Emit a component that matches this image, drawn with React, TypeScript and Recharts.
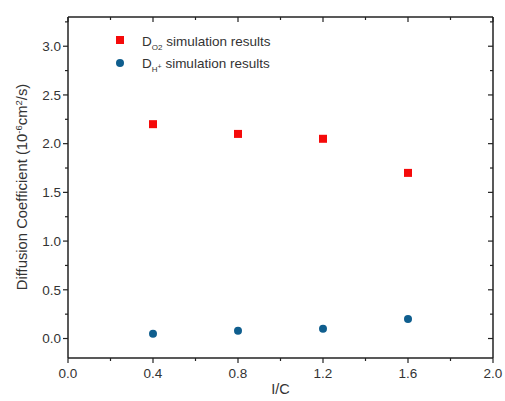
import { ScatterChart, Scatter, XAxis, YAxis } from "recharts"

const icValues = [0.4, 0.8, 1.2, 1.6]
const o2Values = [2.2, 2.1, 2.05, 1.7]
const hValues = [0.05, 0.08, 0.1, 0.2]

const xTicks = [0, 0.2, 0.4, 0.6, 0.8, 1.0, 1.2, 1.4, 1.6, 1.8, 2.0]
const yTicks = [0, 0.25, 0.5, 0.75, 1.0, 1.25, 1.5, 1.75, 2.0, 2.25, 2.5, 2.75, 3.0, 3.25]

const o2Data = icValues.map((x, i) => ({ x, y: o2Values[i] }))
const hData = icValues.map((x, i) => ({ x, y: hValues[i] }))

const font = "'Liberation Sans', Arial, sans-serif"
const axisColor = "#222"
const textColor = "#333"
const red = "#f50a0a"
const blue = "#0f5e8e"

const isMajorX = (v: number) => Math.round(v * 10) % 4 === 0
const isMajorY = (v: number) => Math.round(v * 100) % 50 === 0

function BottomTick(props: any) {
  const { x, y, payload } = props
  const major = isMajorX(payload.value)
  return (
    <g>
      <line x1={x} x2={x} y1={y} y2={y + (major ? 5 : 3)} stroke={axisColor} strokeWidth={1.2} />
      {major && (
        <text x={x} y={y + 20} textAnchor="middle" fontSize={13.5} fill={textColor} fontFamily={font}>
          {payload.value.toFixed(1)}
        </text>
      )}
    </g>
  )
}

function TopTick(props: any) {
  const { x, y, payload } = props
  const major = isMajorX(payload.value)
  return <line x1={x} x2={x} y1={y} y2={y + (major ? 5 : 3)} stroke={axisColor} strokeWidth={1.2} />
}

function LeftTick(props: any) {
  const { x, y, payload } = props
  const major = isMajorY(payload.value)
  return (
    <g>
      <line x1={x} x2={x - (major ? 5 : 3)} y1={y} y2={y} stroke={axisColor} strokeWidth={1.2} />
      {major && (
        <text x={x - 7} y={y + 4.7} textAnchor="end" fontSize={13.5} fill={textColor} fontFamily={font}>
          {payload.value.toFixed(1)}
        </text>
      )}
    </g>
  )
}

function RightTick(props: any) {
  const { x, y, payload } = props
  const major = isMajorY(payload.value)
  return <line x1={x} x2={x - (major ? 5 : 3)} y1={y} y2={y} stroke={axisColor} strokeWidth={1.2} />
}

const Square = (p: any) => <rect x={p.cx - 4} y={p.cy - 4} width={8} height={8} fill={red} />
const Dot = (p: any) => <circle cx={p.cx} cy={p.cy} r={4} fill={blue} />
const Nothing = () => <g />

export default function App() {
  const axisLine = { stroke: axisColor, strokeWidth: 1.5 }
  return (
    <div style={{ position: "absolute", left: 0, top: 0, width: 505, height: 401, background: "#fff" }}>
      <ScatterChart width={505} height={401} margin={{ top: 16, right: 11, bottom: 0, left: 28 }}>
        <XAxis
          xAxisId="b"
          type="number"
          dataKey="x"
          domain={[0, 2]}
          ticks={xTicks}
          interval={0}
          height={43}
          axisLine={axisLine}
          tickLine={false}
          tickSize={0}
          tickMargin={0}
          tick={<BottomTick />}
          label={{ value: "I/C", position: "insideBottom", offset: 7, fontSize: 14.5, fill: textColor, fontFamily: font }}
        />
        <XAxis
          xAxisId="t"
          orientation="top"
          type="number"
          dataKey="x"
          domain={[0, 2]}
          ticks={xTicks}
          interval={0}
          height={1}
          axisLine={axisLine}
          tickLine={false}
          tickSize={0}
          tickMargin={0}
          tick={<TopTick />}
        />
        <YAxis
          yAxisId="l"
          type="number"
          dataKey="y"
          domain={[-0.2, 3.3]}
          ticks={yTicks}
          interval={0}
          width={40}
          axisLine={axisLine}
          tickLine={false}
          tickSize={0}
          tickMargin={0}
          tick={<LeftTick />}
        />
        <YAxis
          yAxisId="r"
          orientation="right"
          type="number"
          dataKey="y"
          domain={[-0.2, 3.3]}
          ticks={yTicks}
          interval={0}
          width={1}
          axisLine={axisLine}
          tickLine={false}
          tickSize={0}
          tickMargin={0}
          tick={<RightTick />}
        />
        <Scatter name="mirror" data={o2Data} xAxisId="t" yAxisId="r" shape={Nothing} isAnimationActive={false} />
        <Scatter name="O2" data={o2Data} xAxisId="b" yAxisId="l" shape={Square} isAnimationActive={false} />
        <Scatter name="H" data={hData} xAxisId="b" yAxisId="l" shape={Dot} isAnimationActive={false} />
      </ScatterChart>
      <svg width={505} height={401} style={{ position: "absolute", left: 0, top: 0, pointerEvents: "none" }}>
        <text
          transform="translate(27,187) rotate(-90)"
          textAnchor="middle"
          fontSize={14.8}
          fill={textColor}
          fontFamily={font}
        >
          Diffusion Coefficient (10<tspan dy={-5} fontSize={9.5}>-6</tspan>
          <tspan dy={5}>cm</tspan>
          <tspan dy={-5} fontSize={9.5}>2</tspan>
          <tspan dy={5}>/s)</tspan>
        </text>
        <rect x={116} y={36} width={8} height={8} fill={red} />
        <text x={142} y={46} fontSize={13.5} fill={textColor} fontFamily={font}>
          D<tspan dy={4} fontSize={8}>O2</tspan>
          <tspan dy={-4}> simulation results</tspan>
        </text>
        <circle cx={120} cy={63} r={4} fill={blue} />
        <text x={142} y={68} fontSize={13.5} fill={textColor} fontFamily={font}>
          D<tspan dy={4} fontSize={8}>H</tspan>
          <tspan dy={-3} fontSize={7}>+</tspan>
          <tspan dy={-1}> simulation results</tspan>
        </text>
      </svg>
    </div>
  )
}
